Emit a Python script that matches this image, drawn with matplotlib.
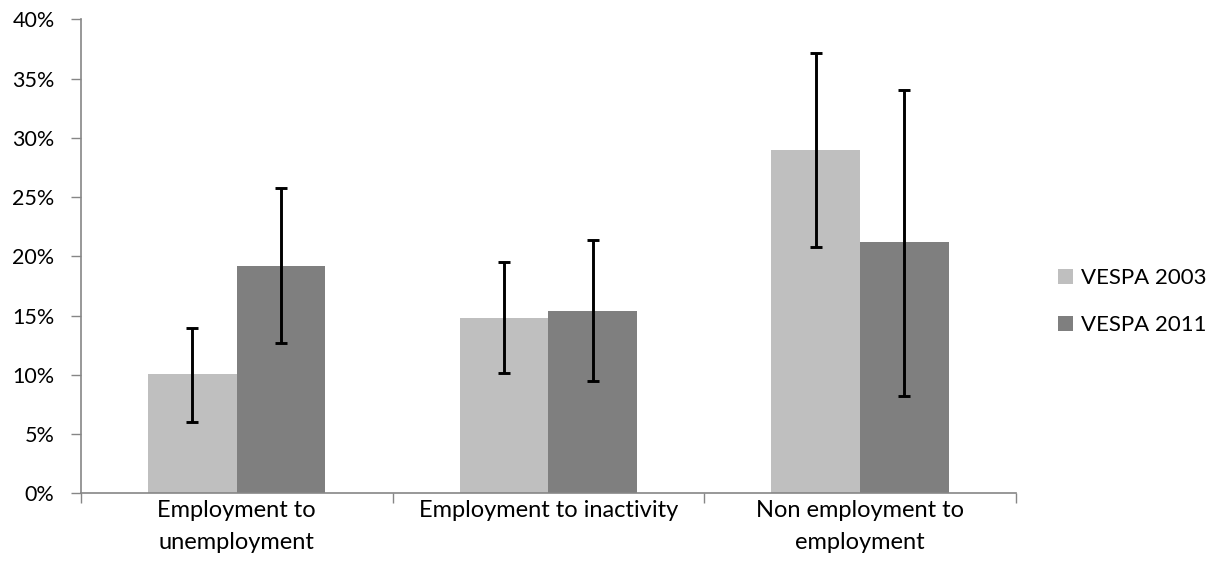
import numpy as np
import matplotlib
matplotlib.use('Agg')
import matplotlib.pyplot as plt
from matplotlib.ticker import FixedLocator, PercentFormatter

plt.rcParams['font.family'] = ['Lato', 'DejaVu Sans']

# data (percent)
categories = ['Employment to\nunemployment', 'Employment to inactivity', 'Non employment to\nemployment']
series = ['VESPA 2003', 'VESPA 2011']
vespa2003 = [10.05, 14.8, 29.0]
vespa2011 = [19.2, 15.4, 21.2]
err2003_low = [6.05, 10.2, 20.8]
err2003_high = [14.0, 19.5, 37.2]
err2011_low = [12.7, 9.5, 8.25]
err2011_high = [25.75, 21.35, 34.05]

colors = ['#bfbfbf', '#7f7f7f']
axisColor = '#868686'

fig = plt.figure(figsize=(12.21, 5.87), dpi=100)
ax = fig.add_axes([0.0663, 0.1593, 0.7658, 0.8078])

x = np.arange(len(categories))
w = 0.2845
vals = [vespa2003, vespa2011]
lows = [err2003_low, err2011_low]
highs = [err2003_high, err2011_high]

for i, (name, v, lo, hi) in enumerate(zip(series, vals, lows, highs)):
    v = np.array(v)
    yerr = [v - np.array(lo), np.array(hi) - v]
    pos = x + (i - 0.5) * w
    ax.bar(pos, v, width=w, color=colors[i], label=name, zorder=2)
    ax.errorbar(pos, v, yerr=yerr, fmt='none', ecolor='black', elinewidth=2.1,
                capsize=4.5, capthick=2.1, zorder=3)

ax.set_xlim(-0.5, len(categories) - 0.5)
ax.set_ylim(0, 40)
ax.set_yticks(np.arange(0, 41, 5))
ax.yaxis.set_major_formatter(PercentFormatter(decimals=0))

# ticks at the group borders, labels at centers
ax.xaxis.set_major_locator(FixedLocator(np.arange(-0.5, len(categories), 1.0)))
ax.xaxis.set_minor_locator(FixedLocator(x))
ax.set_xticklabels([''] * (len(categories) + 1))
ax.set_xticklabels(categories, minor=True, linespacing=1.6)
ax.tick_params(axis='x', which='minor', length=0, pad=5, labelsize=17)
ax.tick_params(axis='x', which='major', length=7, width=1, color=axisColor, direction='out')
ax.tick_params(axis='y', length=7, width=1, color=axisColor, labelsize=15.5, pad=12)

for s in ['top', 'right']:
    ax.spines[s].set_visible(False)
for s in ['left', 'bottom']:
    ax.spines[s].set_color(axisColor)
    ax.spines[s].set_linewidth(1.2)

fig.legend(loc='center left', bbox_to_anchor=(0.850, 0.486), frameon=False,
           fontsize=16, handlelength=0.68, handleheight=0.68, handletextpad=0.38,
           labelspacing=1.2)

fig.savefig('out.png', dpi=100)
